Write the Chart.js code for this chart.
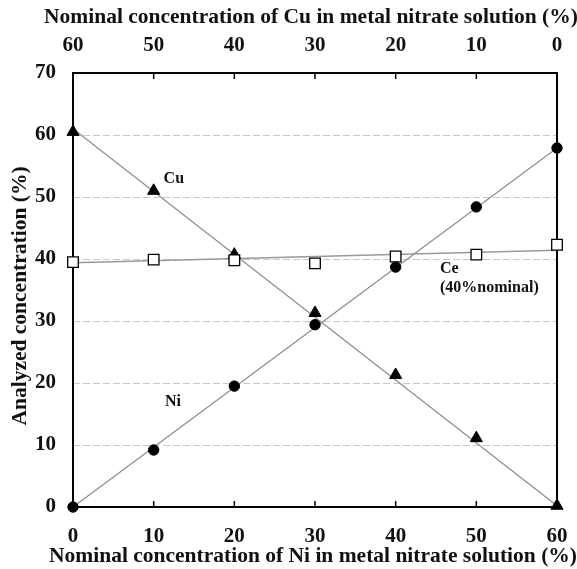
<!DOCTYPE html>
<html>
<head>
<meta charset="utf-8">
<script src="https://cdn.jsdelivr.net/npm/chart.js@4/dist/chart.umd.min.js"></script>
<style>
  html, body { margin: 0; padding: 0; background: #fff; }
  #wrap { width: 577px; height: 569px; }
</style>
</head>
<body>
<div id="wrap"><canvas id="concChart" width="577" height="569"></canvas></div>
<script>
// nominal Ni in solution (%) - bottom axis
const niNominal = [0, 10, 20, 30, 40, 50, 60];
// analysed concentrations (%)
const niAnalyzed = [0, 9.2, 19.5, 29.4, 38.7, 48.4, 57.9];
const cuAnalyzed = [60.5, 51.0, 40.7, 31.3, 21.3, 11.1, 0.2];
const ceAnalyzed = [39.5, 39.9, 39.8, 39.3, 40.4, 40.7, 42.3];
// fitted lines, read at both ends of the axis
const fitX = [0, 60];
const niFit = [0, 57.9];
const cuFit = [61.0, 0.2];
const ceFit = [39.4, 41.4];
const xTicks = [0, 10, 20, 30, 40, 50, 60];
const yTicks = [0, 10, 20, 30, 40, 50, 60, 70];

const topTitle = 'Nominal concentration of Cu in metal nitrate solution (%)';
const bottomTitle = 'Nominal concentration of Ni in metal nitrate solution (%)';
const leftTitle = 'Analyzed concentration (%)';

const serif = "'Liberation Serif', 'Times New Roman', serif";
const pts = (ys) => niNominal.map((x, i) => ({ x: x, y: ys[i] }));
const line = (ys) => fitX.map((x, i) => ({ x: x, y: ys[i] }));

// text labels placed in data coordinates
const notes = [
  { text: 'Cu', x: 12.5, y: 53.0, align: 'center' },
  { text: 'Ni', x: 12.4, y: 16.9, align: 'center' },
  { text: 'Ce', x: 45.5, y: 38.4, align: 'left' },
  { text: '(40%nominal)', x: 45.5, y: 35.3, align: 'left' }
];

const framePlugin = {
  id: 'frame',
  beforeDatasetsDraw(chart) {
    const { ctx, chartArea: a, scales } = chart;
    ctx.save();
    ctx.strokeStyle = '#000';
    ctx.lineWidth = 2;
    ctx.strokeRect(a.left, a.top, a.right - a.left, a.bottom - a.top);
    ctx.lineWidth = 1.5;
    xTicks.slice(1, -1).forEach(v => {
      const px = scales.x.getPixelForValue(v);
      ctx.beginPath();
      ctx.moveTo(px, a.bottom);
      ctx.lineTo(px, a.bottom - 6);
      ctx.moveTo(px, a.top);
      ctx.lineTo(px, a.top + 6);
      ctx.stroke();
    });
    ctx.restore();
  },
  afterDatasetsDraw(chart) {
    const { ctx, scales } = chart;
    ctx.save();
    ctx.fillStyle = '#111';
    ctx.font = 'bold 16px ' + serif;
    ctx.textBaseline = 'middle';
    notes.forEach(n => {
      ctx.textAlign = n.align;
      ctx.fillText(n.text, scales.x.getPixelForValue(n.x), scales.y.getPixelForValue(n.y));
    });
    // axis titles (drawn here so they can run wider than the plot)
    ctx.font = 'bold 21.5px ' + serif;
    ctx.textAlign = 'center';
    ctx.fillText(topTitle, 311, 17);
    ctx.fillText(bottomTitle, 313, 556);
    ctx.translate(20, 296);
    ctx.rotate(-Math.PI / 2);
    ctx.fillText(leftTitle, 0, 0);
    ctx.restore();
  }
};

new Chart(document.getElementById('concChart'), {
  type: 'scatter',
  plugins: [framePlugin],
  data: {
    datasets: [
      { label: 'Ni fit', type: 'line', data: line(niFit), borderColor: '#8c8c8c', borderWidth: 1.2, pointRadius: 0, order: 2, clip: false },
      { label: 'Cu fit', type: 'line', data: line(cuFit), borderColor: '#8c8c8c', borderWidth: 1.2, pointRadius: 0, order: 2, clip: false },
      { label: 'Ce fit', type: 'line', data: line(ceFit), borderColor: '#9a9a9a', borderWidth: 1.4, pointRadius: 0, order: 2, clip: false },
      { label: 'Ni', data: pts(niAnalyzed), pointStyle: 'circle', pointRadius: 5.2, backgroundColor: '#000', borderColor: '#000', borderWidth: 1, order: 1, clip: false },
      { label: 'Cu', data: pts(cuAnalyzed), pointStyle: 'triangle', pointRadius: 7, backgroundColor: '#000', borderColor: '#000', borderWidth: 1, order: 1, clip: false },
      { label: 'Ce', data: pts(ceAnalyzed), pointStyle: 'rect', pointRadius: 7.5, backgroundColor: '#fff', borderColor: '#000', borderWidth: 1.3, order: 0, clip: false }
    ]
  },
  options: {
    responsive: false,
    animation: false,
    layout: { padding: { left: 0, right: 20, top: 0, bottom: 0 } },
    plugins: {
      legend: { display: false },
      tooltip: { enabled: false }
    },
    scales: {
      x: {
        type: 'linear',
        position: 'bottom',
        min: 0,
        max: 60,
        afterBuildTicks: (s) => { s.ticks = xTicks.map(v => ({ value: v })); },
        afterFit: (s) => { s.height = 62; },
        grid: { display: false },
        border: { display: false },
        ticks: { padding: 9, color: '#111', font: { family: serif, size: 21, weight: 'bold' } }
      },
      x2: {
        type: 'linear',
        position: 'top',
        min: 0,
        max: 60,
        reverse: true,
        afterBuildTicks: (s) => { s.ticks = xTicks.map(v => ({ value: v })); },
        afterFit: (s) => { s.height = 73; },
        grid: { display: false },
        border: { display: false },
        ticks: { padding: 7, color: '#111', font: { family: serif, size: 21, weight: 'bold' } }
      },
      y: {
        type: 'linear',
        min: 0,
        max: 70,
        afterBuildTicks: (s) => { s.ticks = yTicks.map(v => ({ value: v })); },
        afterFit: (s) => { s.width = 73; },
        grid: {
          drawTicks: false,
          lineWidth: 1,
          color: (c) => (c.tick && (c.tick.value === 0 || c.tick.value === 70)) ? 'rgba(0,0,0,0)' : '#c8c8c8'
        },
        border: { display: false, dash: [7, 3] },
        ticks: { padding: 17, color: '#111', font: { family: serif, size: 21, weight: 'bold' } }
      }
    }
  }
});
</script>
</body>
</html>
